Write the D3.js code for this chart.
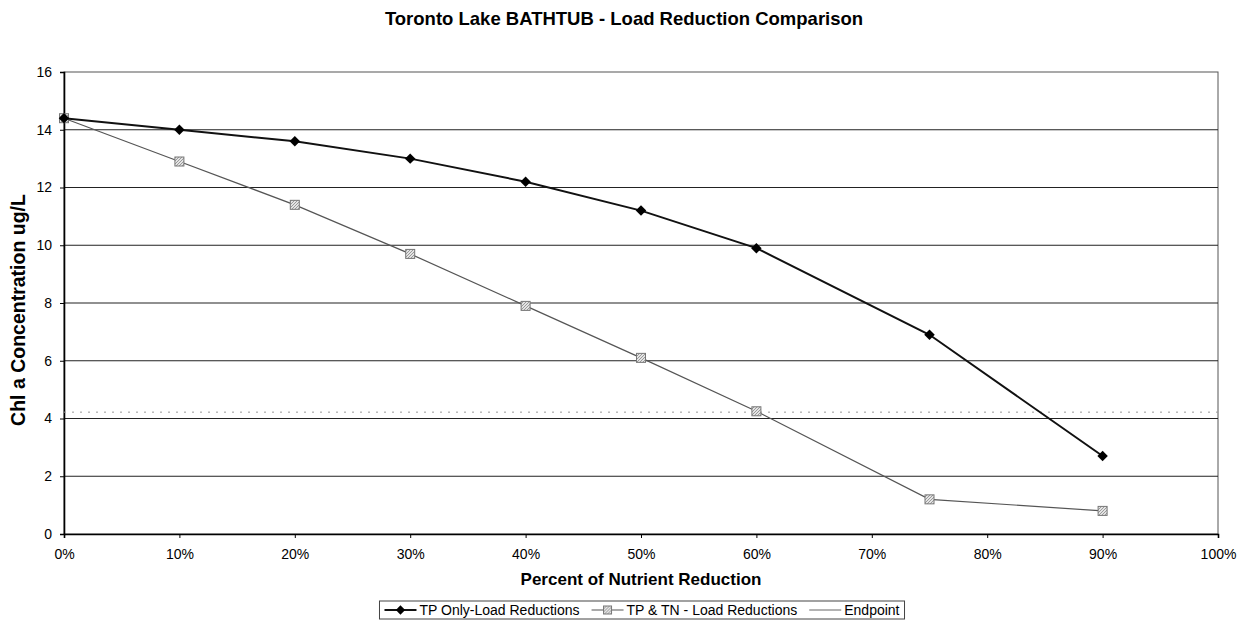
<!DOCTYPE html>
<html>
<head>
<meta charset="utf-8">
<script src="https://cdn.jsdelivr.net/npm/d3@7"></script>
<style>
  body { margin: 0; background: #fff; }
  svg { display: block; font-family: "Liberation Sans", Arial, sans-serif; }
</style>
</head>
<body>
<svg id="chart" width="1244" height="637"></svg>
<script>
// Percent of nutrient reduction at each model run
const reductions = [0, 0.10, 0.20, 0.30, 0.40, 0.50, 0.60, 0.75, 0.90];
// Chl a concentration (ug/L) for each scenario
const tpOnly = [14.4, 14.0, 13.6, 13.0, 12.2, 11.2, 9.9, 6.9, 2.7];
const tpTn   = [14.4, 12.9, 11.4, 9.7, 7.9, 6.1, 4.25, 1.2, 0.8];
// Chl a endpoint target
const endpoint = 4.22;
const yTicks = [0, 2, 4, 6, 8, 10, 12, 14, 16];
const xTicks = [0, 0.1, 0.2, 0.3, 0.4, 0.5, 0.6, 0.7, 0.8, 0.9, 1.0];
const seriesNames = ["TP Only-Load Reductions", "TP & TN - Load Reductions", "Endpoint"];

const svg = d3.select("#chart");
const m = { left: 64, right: 1218, top: 72, bottom: 534 };

const x = d3.scaleLinear().domain([0, 1]).range([m.left, m.right]);
const y = d3.scaleLinear().domain([0, 16]).range([m.bottom, m.top]);

// Hatched fill for the square markers
const defs = svg.append("defs");
const pat = defs.append("pattern")
  .attr("id", "hatch").attr("patternUnits", "userSpaceOnUse")
  .attr("width", 3).attr("height", 3);
pat.append("rect").attr("width", 3).attr("height", 3).attr("fill", "#e4e4e4");
pat.append("path").attr("d", "M0,3 L3,0").attr("stroke", "#888").attr("stroke-width", 0.8);

// Title
svg.append("text")
  .attr("x", 624).attr("y", 25)
  .attr("text-anchor", "middle")
  .attr("font-size", 18.5).attr("font-weight", "bold")
  .text("Toronto Lake BATHTUB - Load Reduction Comparison");

// Plot frame (top and right)
svg.append("rect")
  .attr("x", m.left).attr("y", m.top)
  .attr("width", m.right - m.left).attr("height", m.bottom - m.top)
  .attr("fill", "none").attr("stroke", "#555").attr("stroke-width", 1);

// Horizontal gridlines
svg.append("g").selectAll("line")
  .data(yTicks.filter(d => d > 0 && d < 16))
  .join("line")
  .attr("x1", m.left).attr("x2", m.right)
  .attr("y1", d => y(d)).attr("y2", d => y(d))
  .attr("stroke", "#222").attr("stroke-width", 1.2);

// Y axis
const yAxis = svg.append("g")
  .attr("transform", `translate(${m.left},0)`)
  .call(d3.axisLeft(y).tickValues(yTicks).tickSize(4).tickPadding(8).tickFormat(d3.format("d")));
yAxis.select(".domain").attr("stroke", "#000").attr("stroke-width", 1.6);
yAxis.selectAll(".tick line").attr("stroke", "#000");
yAxis.selectAll("text").attr("font-size", 14).attr("font-family", "Liberation Sans, Arial, sans-serif");

// X axis
const xAxis = svg.append("g")
  .attr("transform", `translate(0,${m.bottom})`)
  .call(d3.axisBottom(x).tickValues(xTicks).tickSize(4).tickPadding(11).tickFormat(d3.format(".0%")));
xAxis.select(".domain").attr("stroke", "#000").attr("stroke-width", 1.6);
xAxis.selectAll(".tick line").attr("stroke", "#000");
xAxis.selectAll("text").attr("font-size", 14).attr("font-family", "Liberation Sans, Arial, sans-serif");

// Axis titles
svg.append("text")
  .attr("x", 641).attr("y", 585)
  .attr("text-anchor", "middle")
  .attr("font-size", 17).attr("font-weight", "bold")
  .text("Percent of Nutrient Reduction");

svg.append("text")
  .attr("transform", `translate(25,310) rotate(-90)`)
  .attr("text-anchor", "middle")
  .attr("font-size", 19.5).attr("font-weight", "bold")
  .text("Chl a Concentration ug/L");

// Endpoint line
svg.append("line")
  .attr("x1", m.left).attr("x2", m.right)
  .attr("y1", y(endpoint)).attr("y2", y(endpoint))
  .attr("stroke", "#999").attr("stroke-width", 1)
  .attr("stroke-dasharray", "2,6");

const line = d3.line().x(d => x(d[0])).y(d => y(d[1]));
const tpTnPts = reductions.map((r, i) => [r, tpTn[i]]);
const tpOnlyPts = reductions.map((r, i) => [r, tpOnly[i]]);

// TP & TN series
svg.append("path").datum(tpTnPts)
  .attr("d", line).attr("fill", "none")
  .attr("stroke", "#555").attr("stroke-width", 1.2);
svg.append("g").selectAll("rect").data(tpTnPts).join("rect")
  .attr("x", d => x(d[0]) - 4.5).attr("y", d => y(d[1]) - 4.5)
  .attr("width", 9).attr("height", 9)
  .attr("fill", "url(#hatch)").attr("stroke", "#777").attr("stroke-width", 1);

// TP Only series
svg.append("path").datum(tpOnlyPts)
  .attr("d", line).attr("fill", "none")
  .attr("stroke", "#111").attr("stroke-width", 2);
const diamond = d3.symbol().type(d3.symbolDiamond2).size(70);
svg.append("g").selectAll("path").data(tpOnlyPts).join("path")
  .attr("transform", d => `translate(${x(d[0])},${y(d[1])})`)
  .attr("d", diamond).attr("fill", "#000");

// Legend
const lg = svg.append("g");
const box = lg.append("rect")
  .attr("y", 601).attr("height", 18)
  .attr("fill", "#fff").attr("stroke", "#444").attr("stroke-width", 1);
const cy = 610;
let cursor = 0;
const kinds = ["diamond", "square", "end"];
const items = lg.append("g");
seriesNames.forEach((name, i) => {
  const g = items.append("g").attr("transform", `translate(${cursor},0)`);
  const kind = kinds[i];
  if (kind === "diamond") {
    g.append("line").attr("x1", 0).attr("x2", 32).attr("y1", cy).attr("y2", cy)
      .attr("stroke", "#111").attr("stroke-width", 2);
    g.append("path").attr("transform", `translate(16,${cy})`)
      .attr("d", d3.symbol().type(d3.symbolDiamond2).size(55)).attr("fill", "#000");
  } else if (kind === "square") {
    g.append("line").attr("x1", 0).attr("x2", 32).attr("y1", cy).attr("y2", cy)
      .attr("stroke", "#555").attr("stroke-width", 1.2);
    g.append("rect").attr("x", 12).attr("y", cy - 4).attr("width", 8).attr("height", 8)
      .attr("fill", "url(#hatch)").attr("stroke", "#777");
  } else {
    g.append("line").attr("x1", 0).attr("x2", 32).attr("y1", cy).attr("y2", cy)
      .attr("stroke", "#666").attr("stroke-width", 1);
  }
  const t = g.append("text").attr("x", 35).attr("y", cy + 5)
    .attr("font-size", 14).text(name);
  cursor += 35 + t.node().getComputedTextLength() + 12;
});
const legendW = cursor - 12 + 10;
const legendX = 642 - legendW / 2;
box.attr("x", legendX).attr("width", legendW);
items.attr("transform", `translate(${legendX + 5},0)`);
</script>
</body>
</html>
